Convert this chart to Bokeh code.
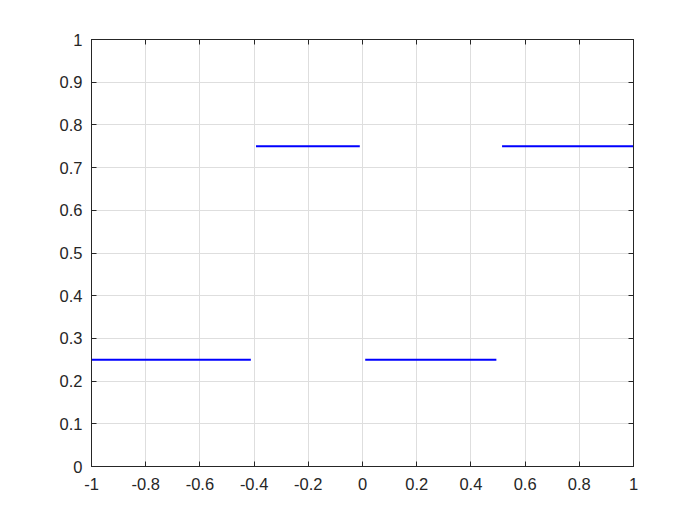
from bokeh.plotting import figure
from bokeh.models import Range1d, FixedTicker, LinearAxis, ColumnDataSource
from bokeh.embed import file_html
from bokeh.resources import INLINE

# Step segments (x start, x end, level)
seg_x0 = [-1.0, -0.393, 0.01, 0.515]
seg_x1 = [-0.412, -0.01, 0.494, 1.0]
seg_y = [0.25, 0.75, 0.25, 0.75]

x_ticks = [-1.0, -0.8, -0.6, -0.4, -0.2, 0.0, 0.2, 0.4, 0.6, 0.8, 1.0]
x_labels = ["-1", "-0.8", "-0.6", "-0.4", "-0.2", "0", "0.2", "0.4", "0.6", "0.8", "1"]
y_ticks = [0.0, 0.1, 0.2, 0.3, 0.4, 0.5, 0.6, 0.7, 0.8, 0.9, 1.0]
y_labels = ["0", "0.1", "0.2", "0.3", "0.4", "0.5", "0.6", "0.7", "0.8", "0.9", "1"]

AX = "#262626"
FONT = "Liberation Sans"

p = figure(output_backend="svg", toolbar_location=None,
           frame_width=542, frame_height=427,
           x_range=Range1d(-1, 1), y_range=Range1d(0, 1),
           x_axis_location=None, y_axis_location=None,
           min_border_left=91, min_border_top=39, min_border_right=59, min_border_bottom=51)
p.background_fill_color = "white"
p.border_fill_color = "white"
p.outline_line_color = AX
p.outline_line_width = 1

src = ColumnDataSource(dict(x0=seg_x0, x1=seg_x1, y=seg_y))
p.segment(x0="x0", y0="y", x1="x1", y1="y", source=src, line_color="#0000FF", line_width=2)

def make_axis(ticks, labels, show_labels):
    ax = LinearAxis(ticker=FixedTicker(ticks=ticks))
    ax.major_label_overrides = {t: l for t, l in zip(ticks, labels)}
    ax.axis_line_color = AX
    ax.major_tick_line_color = AX
    ax.major_tick_in = 5
    ax.major_tick_out = 0
    ax.minor_tick_line_color = None
    ax.major_label_text_font = FONT
    ax.major_label_text_font_size = "16.5px"
    ax.major_label_text_color = AX
    if not show_labels:
        ax.major_label_text_font_size = "0px"
        ax.major_label_text_alpha = 0
    return ax

bx = make_axis(x_ticks, x_labels, True)
bx.major_label_standoff = 11
p.add_layout(bx, "below")
ly = make_axis(y_ticks, y_labels, True)
ly.major_label_standoff = 9
p.add_layout(ly, "left")
p.add_layout(make_axis(x_ticks, x_labels, False), "above")
p.add_layout(make_axis(y_ticks, y_labels, False), "right")

p.xgrid.ticker = FixedTicker(ticks=x_ticks)
p.ygrid.ticker = FixedTicker(ticks=y_ticks)
for g in (p.xgrid, p.ygrid):
    g.grid_line_color = "#DEDEDE"
    g.grid_line_width = 1

open("out.html", "w").write(file_html(p, INLINE))
